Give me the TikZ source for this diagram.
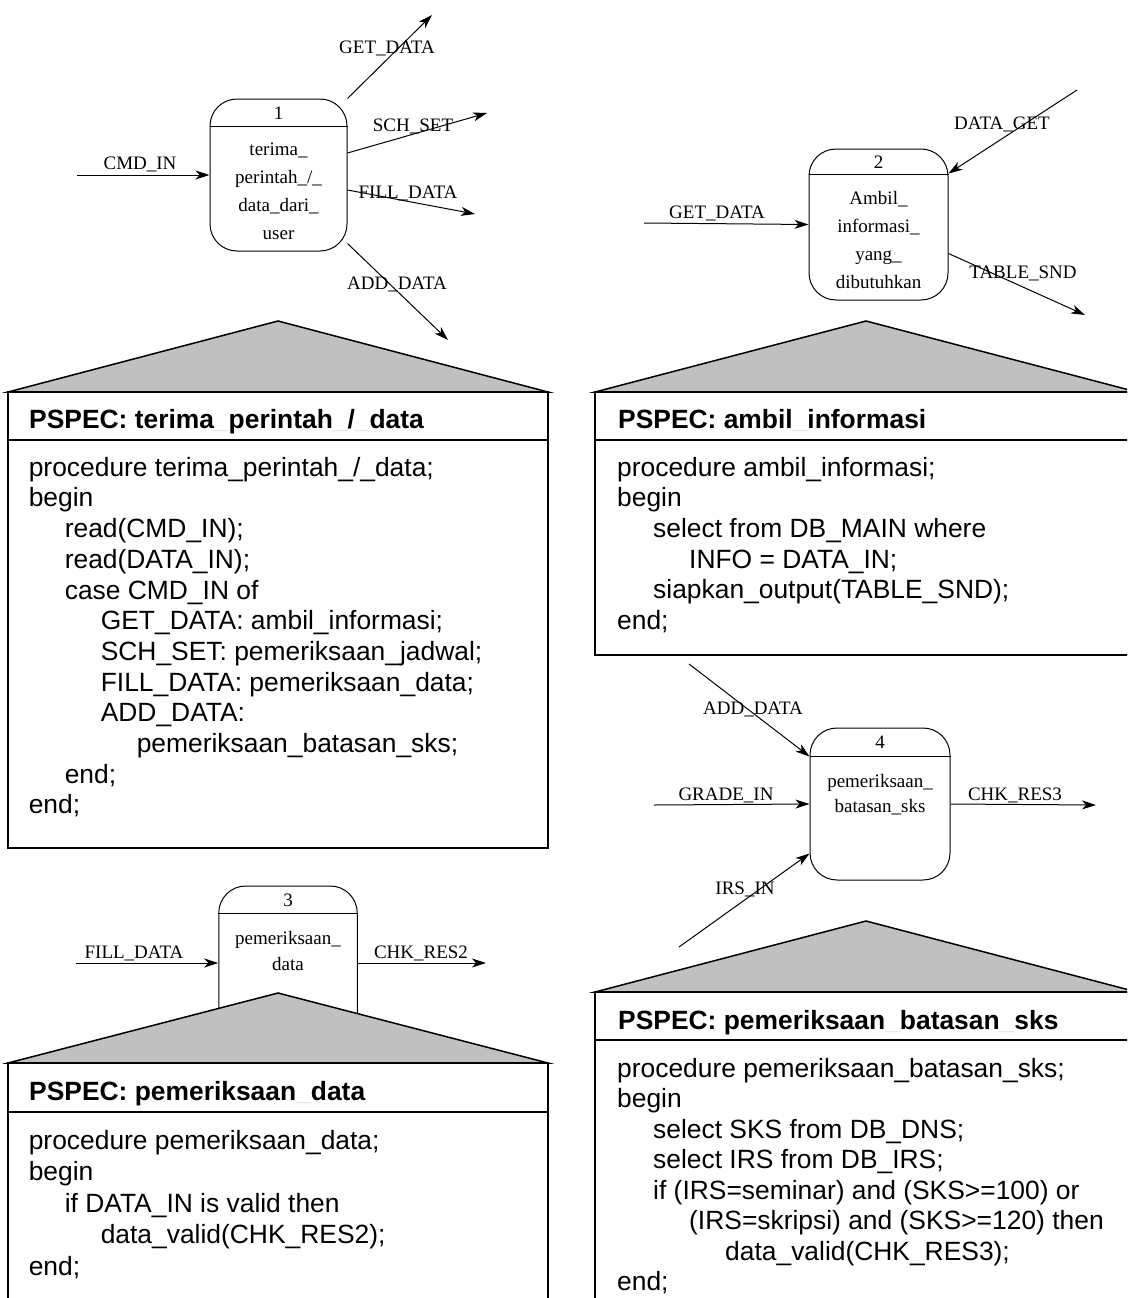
\documentclass[tikz,border=0pt]{standalone}
\usepackage{fontspec}
\setmainfont{Liberation Serif}
\newfontfamily\sansf{Liberation Sans}
\usetikzlibrary{arrows.meta}
\definecolor{triGray}{HTML}{C0C0C0}
\newcommand{\fadeus}{{\color{black!12}\_}}
\begin{document}
\begin{tikzpicture}[x=1pt,y=-1pt,
  proc/.style={draw, line width=1pt, rounded corners=27pt, inner sep=0pt},
  flow/.style={line width=1pt, -{Stealth[length=14pt,width=9pt,inset=4pt]}},
  lbl/.style={inner sep=0pt, font=\fontsize{19}{22}\selectfont, text height=12.5pt, text depth=0pt},
  ptext/.style={inner sep=0pt, align=center, anchor=north, font=\fontsize{19}{28}\selectfont},
  tri/.style={fill=triGray, draw=black, line width=1.5pt, line join=miter},
  pbox/.style={draw=black, line width=2pt},
  head/.style={anchor=base west, inner sep=0pt, font=\sansf\bfseries\fontsize{26.4}{30}\selectfont},
  code/.style={anchor=north west, inner sep=0pt, align=left, font=\sansf\fontsize{26.4}{30.7}\selectfont},
]
\useasboundingbox (0,0) rectangle (1127,1298);
\clip (0,0) rectangle (1127,1298);

% ---------------- processes ----------------
\node[proc, minimum width=137pt, minimum height=152pt] (p1) at (278.5,175) {};
\draw[line width=1pt] (p1.west |- 0,126) -- (p1.east |- 0,126);
\node[lbl] (n1) at (278.5,113) {1};
\node[ptext] (t1) at (278.5,141) {\rule{0pt}{14pt}terima\_\\perintah\_/\_\\data\_dari\_\\user};

\node[proc, minimum width=139pt, minimum height=151pt] (p2) at (878.5,224.5) {};
\draw[line width=1pt] (p2.west |- 0,174) -- (p2.east |- 0,174);
\node[lbl] (n2) at (878.5,162) {2};
\node[ptext] (t2) at (878.5,190) {\rule{0pt}{14pt}Ambil\_\\informasi\_\\yang\_\\dibutuhkan};

\node[proc, minimum width=140pt, minimum height=152pt] (p4) at (880,804) {};
\draw[line width=1pt] (p4.west |- 0,756) -- (p4.east |- 0,756);
\node[lbl] (n4) at (880,742) {4};
\node[ptext, font=\fontsize{19}{25}\selectfont] (t4) at (880,773) {\rule{0pt}{14pt}pemeriksaan\_\\batasan\_sks};

\node[proc, minimum width=138.5pt, minimum height=154pt] (p3) at (288,963) {};
\draw[line width=1pt] (p3.west |- 0,913) -- (p3.east |- 0,913);
\node[lbl] (n3) at (288,900) {3};
\node[ptext, font=\fontsize{19}{26}\selectfont] (t3) at (288,930) {\rule{0pt}{14pt}pemeriksaan\_\\data};

% ---------------- flows ----------------
\coordinate (cmdin) at (77,175);
\coordinate (getout) at (432,15);
\coordinate (schout) at (487,113);
\coordinate (fillout) at (475,214);
\coordinate (addout) at (448,340);
\draw[flow] (cmdin) -- (p1.west);
\draw[flow] (p1.north east) -- (getout);
\draw[flow] ([yshift=22pt]p1.east) -- (schout);
\draw[flow] ([yshift=-15pt]p1.east) -- (fillout);
\draw[flow] ([yshift=8pt]p1.south east) -- (addout);
\node[lbl] (lcmd) at (140,163) {CMD\_IN};
\node[lbl] (lget) at (387,47) {GET\_DATA};
\node[lbl] (lsch) at (413,125) {SCH\_SET};
\node[lbl] (lfill) at (408,192) {FILL\_DATA};
\node[lbl] (ladd) at (397,283) {ADD\_DATA};

\coordinate (getin2) at (644,223);
\coordinate (dataget) at (1077,90);
\coordinate (tableout) at (1085,315);
\draw[flow] (getin2) -- (p2.west);
\draw[flow] (dataget) -- ([yshift=-25pt]p2.north east);
\draw[flow] ([yshift=-29pt]p2.east) -- (tableout);
\node[lbl] (lget2) at (717,212) {GET\_DATA};
\node[lbl] (ldg) at (1002,123) {DATA\_GET};
\node[lbl] (ltab) at (1023,272) {TABLE\_SND};

\coordinate (addin4) at (689,664);
\coordinate (gradein) at (654,805);
\coordinate (irsin) at (679,947);
\coordinate (chk3out) at (1096,805);
\draw[flow] (addin4) -- ([yshift=-29pt]p4.north west);
\draw[flow] (gradein) -- (p4.west);
\draw[flow] (irsin) -- ([yshift=27pt]p4.south west);
\draw[flow] (p4.east) -- (chk3out);
\node[lbl] (ladd4) at (753,708) {ADD\_DATA};
\node[lbl] (lgrade) at (726,794) {GRADE\_IN};
\node[lbl] (lirs) at (745,888) {IRS\_IN};
\node[lbl] (lchk3) at (1015,794) {CHK\_RES3};

\coordinate (fillin3) at (76,963);
\coordinate (chk2out) at (486,963);
\draw[flow] (fillin3) -- (p3.west);
\draw[flow] (p3.east) -- (chk2out);
\node[lbl] (lfill3) at (134,952) {FILL\_DATA};
\node[lbl] (lchk2) at (421,952) {CHK\_RES2};

% ---------------- PSPEC 1 ----------------
\draw[tri] (8,392) -- (278,321) -- (548,392) -- cycle;
\draw[pbox] (8,392) rectangle (548,848);
\draw[pbox] (8,440) -- (548,440);
\node[head] (h1) at (29,428) {PSPEC: terima\fadeus perintah\fadeus /\fadeus data};
\node[code] (c1) at (28.6,454) {\rule{0pt}{22pt}procedure terima\_perintah\_/\_data;\\
begin\\
\hspace*{36pt}read(CMD\_IN);\\
\hspace*{36pt}read(DATA\_IN);\\
\hspace*{36pt}case CMD\_IN of\\
\hspace*{72pt}GET\_DATA: ambil\_informasi;\\
\hspace*{72pt}SCH\_SET: pemeriksaan\_jadwal;\\
\hspace*{72pt}FILL\_DATA: pemeriksaan\_data;\\
\hspace*{72pt}ADD\_DATA:\\
\hspace*{108pt}pemeriksaan\_batasan\_sks;\\
\hspace*{36pt}end;\\
end;};

% ---------------- PSPEC 2 ----------------
\draw[tri] (595,392) -- (866,321) -- (1137,392) -- cycle;
\draw[pbox] (595,392) rectangle (1137,655);
\draw[pbox] (595,440) -- (1137,440);
\node[head] (h2) at (618,428) {PSPEC: ambil\fadeus informasi};
\node[code, font=\sansf\fontsize{26.4}{30.6}\selectfont] (c2) at (617,454) {\rule{0pt}{22pt}procedure ambil\_informasi;\\
begin\\
\hspace*{36pt}select from DB\_MAIN where\\
\hspace*{72pt}INFO = DATA\_IN;\\
\hspace*{36pt}siapkan\_output(TABLE\_SND);\\
end;};

% ---------------- PSPEC 3 ----------------
\draw[tri] (8,1063) -- (278,993) -- (548,1063) -- cycle;
\draw[pbox] (8,1063) rectangle (548,1320);
\draw[pbox] (8,1112) -- (548,1112);
\node[head] (h3) at (29,1100) {PSPEC: pemeriksaan\fadeus data};
\node[code, font=\sansf\fontsize{26.4}{31.5}\selectfont] (c3) at (28.6,1127) {\rule{0pt}{22pt}procedure pemeriksaan\_data;\\
begin\\
\hspace*{36pt}if DATA\_IN is valid then\\
\hspace*{72pt}data\_valid(CHK\_RES2);\\
end;};

% ---------------- PSPEC 4 ----------------
\draw[tri] (595,992) -- (866,921) -- (1137,992) -- cycle;
\draw[pbox] (595,992) rectangle (1137,1320);
\draw[pbox] (595,1040) -- (1137,1040);
\node[head] (h4) at (618,1029) {PSPEC: pemeriksaan\fadeus batasan\fadeus sks};
\node[code, font=\sansf\fontsize{26.4}{30.5}\selectfont] (c4) at (617,1055) {\rule{0pt}{22pt}procedure pemeriksaan\_batasan\_sks;\\
begin\\
\hspace*{36pt}select SKS from DB\_DNS;\\
\hspace*{36pt}select IRS from DB\_IRS;\\
\hspace*{36pt}if (IRS=seminar) and (SKS>=100) or\\
\hspace*{72pt}(IRS=skripsi) and (SKS>=120) then\\
\hspace*{108pt}data\_valid(CHK\_RES3);\\
end;};
\end{tikzpicture}
\end{document}
